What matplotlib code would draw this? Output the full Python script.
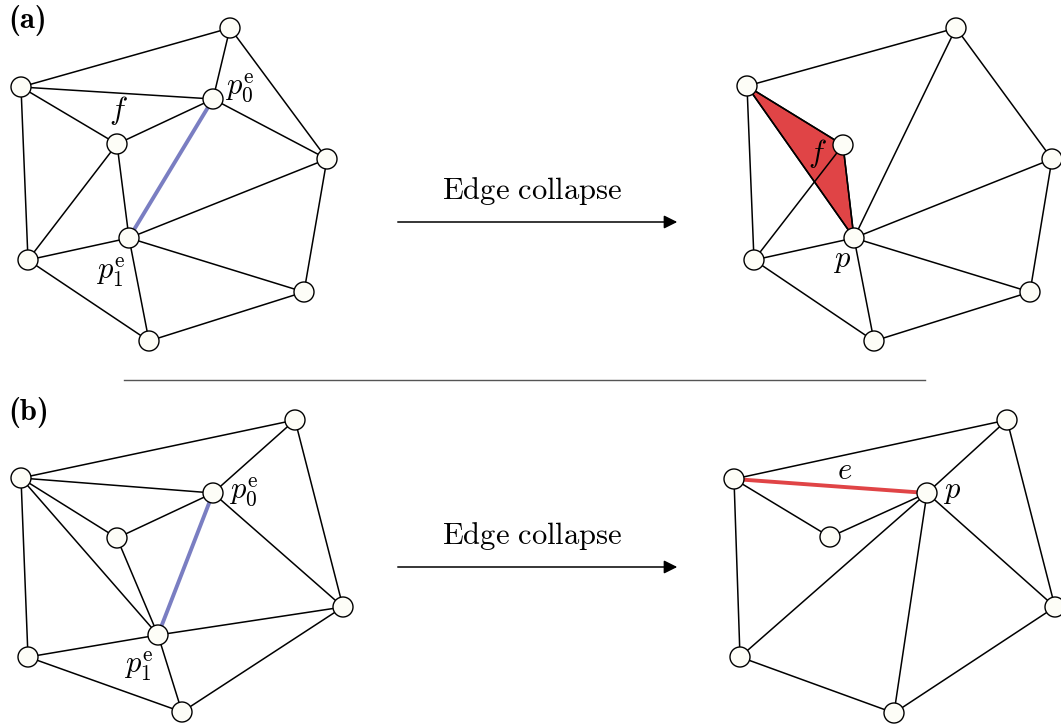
import os
import matplotlib
import matplotlib.pyplot as plt
from matplotlib.font_manager import FontProperties
from matplotlib.patches import Circle, Polygon, FancyArrowPatch

plt.rcParams['mathtext.fontset'] = 'cm'
plt.rcParams['font.family'] = 'serif'

ttf_dir = os.path.join(matplotlib.get_data_path(), 'fonts', 'ttf')
cm_bold = FontProperties(fname=os.path.join(ttf_dir, 'cmb10.ttf'))

# mesh vertices (x, y) in pixel space, y grows downwards
mesh_a_before = [(230, 28), (21, 87), (213, 99), (117, 144), (327, 159),
                 (129, 238), (28, 260), (304, 292), (149, 341)]
edges_a_before = [(0, 1), (0, 2), (0, 4), (1, 2), (1, 3), (1, 6), (2, 3), (2, 4),
                  (3, 5), (3, 6), (4, 5), (4, 7), (5, 6), (5, 7), (5, 8), (6, 8), (7, 8)]
collapse_edge_a = (2, 5)

mesh_a_after = [(956, 28), (747, 86), (843, 145), (1052, 159), (854, 238),
                (754, 260), (1030, 292), (874, 341)]
edges_a_after = [(0, 1), (0, 4), (0, 3), (1, 2), (1, 4), (1, 5), (2, 4), (2, 5),
                 (3, 4), (3, 6), (4, 5), (4, 6), (4, 7), (5, 7), (6, 7)]
flipped_face = (1, 2, 4)

mesh_b_before = [(295, 420), (21, 478), (213, 493), (117, 538), (343, 607),
                 (158, 635), (28, 657), (182, 712)]
edges_b_before = [(0, 1), (0, 2), (0, 4), (1, 2), (1, 3), (1, 5), (1, 6), (2, 3),
                  (2, 4), (3, 5), (4, 5), (4, 7), (5, 6), (5, 7), (6, 7)]
collapse_edge_b = (2, 5)

mesh_b_after = [(1007, 420), (734, 479), (927, 493), (830, 537), (1055, 607),
                (740, 657), (894, 713)]
edges_b_after = [(0, 1), (0, 2), (0, 4), (1, 3), (1, 5), (2, 3), (2, 5), (2, 6),
                 (2, 4), (4, 6), (5, 6)]
bad_edge = (1, 2)

BLUE = '#7a7ec2'
RED = '#e04446'
NODE_FILL = '#fdfdf7'
NODE_R = 10


def draw_mesh(ax, pts, edges, special=None, special_color=None, face=None):
    if face is not None:
        ax.add_patch(Polygon([pts[i] for i in face], closed=True,
                             facecolor=RED, edgecolor='black', lw=1.1, zorder=1))
    for i, j in edges:
        ax.plot([pts[i][0], pts[j][0]], [pts[i][1], pts[j][1]],
                color='black', lw=1.1, zorder=2)
    if special is not None:
        i, j = special
        ax.plot([pts[i][0], pts[j][0]], [pts[i][1], pts[j][1]],
                color=special_color, lw=2.8, zorder=3, solid_capstyle='butt')
    for x, y in pts:
        ax.add_patch(Circle((x, y), NODE_R, facecolor=NODE_FILL,
                            edgecolor='black', lw=1.0, zorder=4))


fig = plt.figure(figsize=(10.61, 7.25), dpi=100)
ax = fig.add_axes([0, 0, 1, 1])
ax.set_xlim(0, 1061)
ax.set_ylim(725, 0)
ax.set_aspect('equal')
ax.axis('off')

draw_mesh(ax, mesh_a_before, edges_a_before, collapse_edge_a, BLUE)
draw_mesh(ax, mesh_a_after, edges_a_after, face=flipped_face)
draw_mesh(ax, mesh_b_before, edges_b_before, collapse_edge_b, BLUE)
draw_mesh(ax, mesh_b_after, edges_b_after, bad_edge, RED)

fs = 22
cm_bold.set_size(fs)
ax.text(8, 20, '(a)', fontproperties=cm_bold, ha='left', va='center')
ax.text(8, 412, '(b)', fontproperties=cm_bold, ha='left', va='center')

p0 = r'$p_0^{\mathrm{e}}$'
p1 = r'$p_1^{\mathrm{e}}$'
ax.text(118, 110, r'$f$', fontsize=fs, ha='center', va='center')
ax.text(225, 88, p0, fontsize=fs, ha='left', va='center')
ax.text(96, 272, p1, fontsize=fs, ha='left', va='center')
ax.text(817, 153, r'$f$', fontsize=fs, ha='center', va='center', zorder=5)
ax.text(842, 259, r'$p$', fontsize=fs, ha='center', va='center')

ax.text(229, 492, p0, fontsize=fs, ha='left', va='center')
ax.text(124, 666, p1, fontsize=fs, ha='left', va='center')
ax.text(845, 470, r'$e$', fontsize=fs, ha='center', va='center')
ax.text(952, 490, r'$p$', fontsize=fs, ha='center', va='center')

# collapse arrows between the before/after meshes
for y in (222, 567):
    ax.add_patch(FancyArrowPatch((395, y), (680, y), arrowstyle='-|>',
                                 mutation_scale=20, color='black', lw=1.1))
    ax.text(532, y - 31, r'$\mathrm{Edge\ collapse}$', fontsize=fs,
            ha='center', va='center')

ax.plot([124, 925], [380, 380], color='#555555', lw=1.0)

fig.savefig('out.png', dpi=100)
